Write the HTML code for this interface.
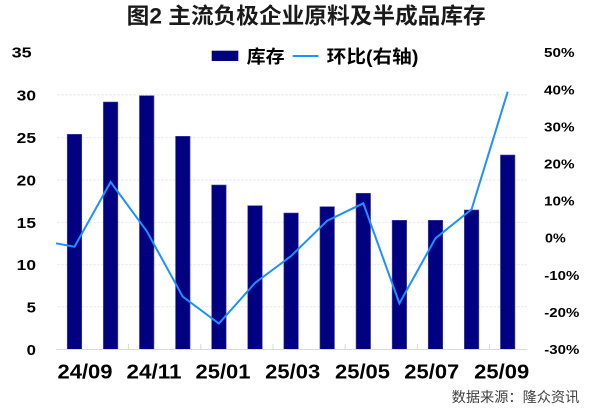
<!DOCTYPE html>
<html>
<head>
<meta charset="utf-8">
<style>
html,body{margin:0;padding:0;background:#fff;}
svg{display:block;}
text{font-family:"Liberation Sans","Noto Sans CJK SC",sans-serif;}
</style>
</head>
<body>
<svg width="600" height="408" viewBox="0 0 600 408" xmlns="http://www.w3.org/2000/svg">
<rect width="600" height="408" fill="#fff"/>
<!-- Title -->
<text x="126.7" y="23.5" font-size="22" font-weight="bold" fill="#1a1a1a" textLength="359" lengthAdjust="spacingAndGlyphs">图2 主流负极企业原料及半成品库存</text>

<!-- Gridlines -->
<g stroke="#ebebeb" stroke-width="1" stroke-dasharray="3,1">
<line x1="57" y1="94.9" x2="527" y2="94.9"/>
<line x1="57" y1="137.7" x2="527" y2="137.7"/>
<line x1="57" y1="180" x2="527" y2="180"/>
<line x1="57" y1="222.4" x2="527" y2="222.4"/>
<line x1="57" y1="264.7" x2="527" y2="264.7"/>
<line x1="57" y1="306.8" x2="527" y2="306.8"/>
</g>

<!-- Legend -->
<rect x="211.7" y="50.7" width="26.6" height="10.3" fill="#000080"/>
<text x="246.7" y="63" font-size="18" font-weight="bold" fill="#000" textLength="38" lengthAdjust="spacingAndGlyphs">库存</text>
<line x1="292.7" y1="56" x2="318.3" y2="56" stroke="#1E90FF" stroke-width="2"/>
<text x="326.7" y="63" font-size="18" font-weight="bold" fill="#000" textLength="91.7" lengthAdjust="spacingAndGlyphs">环比(右轴)</text>

<!-- Bars -->
<g fill="#000080" stroke="#4a4aa8" stroke-width="0.6">
<rect x="67.25" y="134.3" width="14.5" height="215"/>
<rect x="103.35" y="102" width="14.5" height="247.3"/>
<rect x="139.45" y="95.7" width="14.5" height="253.6"/>
<rect x="175.55" y="136.3" width="14.5" height="213"/>
<rect x="211.65" y="185" width="14.5" height="164.3"/>
<rect x="247.75" y="205.7" width="14.5" height="143.6"/>
<rect x="283.85" y="213" width="14.5" height="136.3"/>
<rect x="319.95" y="206.7" width="14.5" height="142.6"/>
<rect x="356.05" y="193.3" width="14.5" height="156"/>
<rect x="392.15" y="220.3" width="14.5" height="129"/>
<rect x="428.25" y="220.3" width="14.5" height="129"/>
<rect x="464.35" y="210" width="14.5" height="139.3"/>
<rect x="500.45" y="155" width="14.5" height="194.3"/>
</g>

<!-- Baseline and ticks -->
<line x1="56" y1="349.5" x2="527" y2="349.5" stroke="#d9d9d9" stroke-width="1"/>
<g stroke="#d9d9d9" stroke-width="1">
<line x1="128.6" y1="344" x2="128.6" y2="349.5"/>
<line x1="200.8" y1="344" x2="200.8" y2="349.5"/>
<line x1="273" y1="344" x2="273" y2="349.5"/>
<line x1="345.2" y1="344" x2="345.2" y2="349.5"/>
<line x1="417.4" y1="344" x2="417.4" y2="349.5"/>
<line x1="489.6" y1="344" x2="489.6" y2="349.5"/>
</g>

<!-- Line series -->
<polyline fill="none" stroke="#1E90FF" stroke-width="2" stroke-linejoin="miter"
points="56,243.3 74.5,246.7 110.6,182 146.7,231 182.8,296.7 218.9,323.5 255,283 291.1,256 327.2,220.7 363.3,203.3 399.4,303.3 435.5,238.3 471.6,209.3 507.7,91.7"/>

<!-- Left axis labels -->
<g font-size="15" font-weight="bold" fill="#000">
<text x="11.7" y="57.6" textLength="20" lengthAdjust="spacingAndGlyphs">35</text>
<text x="16.7" y="100.4" textLength="19.3" lengthAdjust="spacingAndGlyphs">30</text>
<text x="16.7" y="143.2" textLength="19.3" lengthAdjust="spacingAndGlyphs">25</text>
<text x="16.7" y="185.5" textLength="19.3" lengthAdjust="spacingAndGlyphs">20</text>
<text x="16.7" y="227.9" textLength="19.3" lengthAdjust="spacingAndGlyphs">15</text>
<text x="16.7" y="270.2" textLength="19.3" lengthAdjust="spacingAndGlyphs">10</text>
<text x="26.7" y="312.3" textLength="9.3" lengthAdjust="spacingAndGlyphs">5</text>
<text x="26.7" y="354.8" textLength="9.3" lengthAdjust="spacingAndGlyphs">0</text>
</g>

<!-- Right axis labels -->
<g font-size="13" font-weight="bold" fill="#000">
<text x="544" y="57.2" textLength="30.5" lengthAdjust="spacingAndGlyphs">50%</text>
<text x="544" y="94.3" textLength="30.5" lengthAdjust="spacingAndGlyphs">40%</text>
<text x="544" y="131.4" textLength="30.5" lengthAdjust="spacingAndGlyphs">30%</text>
<text x="544" y="168.5" textLength="30.5" lengthAdjust="spacingAndGlyphs">20%</text>
<text x="544" y="205.6" textLength="30.5" lengthAdjust="spacingAndGlyphs">10%</text>
<text x="545" y="242.7" textLength="20.7" lengthAdjust="spacingAndGlyphs">0%</text>
<text x="544.3" y="279.8" textLength="35" lengthAdjust="spacingAndGlyphs">-10%</text>
<text x="544.3" y="316.9" textLength="35" lengthAdjust="spacingAndGlyphs">-20%</text>
<text x="544.3" y="354" textLength="35" lengthAdjust="spacingAndGlyphs">-30%</text>
</g>

<!-- X axis labels -->
<g font-size="20" font-weight="bold" fill="#000" text-anchor="middle">
<text x="85" y="378.3" textLength="55" lengthAdjust="spacingAndGlyphs">24/09</text>
<text x="154" y="378.3" textLength="55" lengthAdjust="spacingAndGlyphs">24/11</text>
<text x="223" y="378.3" textLength="55" lengthAdjust="spacingAndGlyphs">25/01</text>
<text x="292.7" y="378.3" textLength="55" lengthAdjust="spacingAndGlyphs">25/03</text>
<text x="362.5" y="378.3" textLength="55" lengthAdjust="spacingAndGlyphs">25/05</text>
<text x="431.8" y="378.3" textLength="55" lengthAdjust="spacingAndGlyphs">25/07</text>
<text x="501.7" y="378.3" textLength="55" lengthAdjust="spacingAndGlyphs">25/09</text>
</g>

<!-- Source -->
<text x="451.7" y="402" font-size="14" fill="#404040" textLength="127.6" lengthAdjust="spacingAndGlyphs">数据来源：隆众资讯</text>
</svg>
</body>
</html>
